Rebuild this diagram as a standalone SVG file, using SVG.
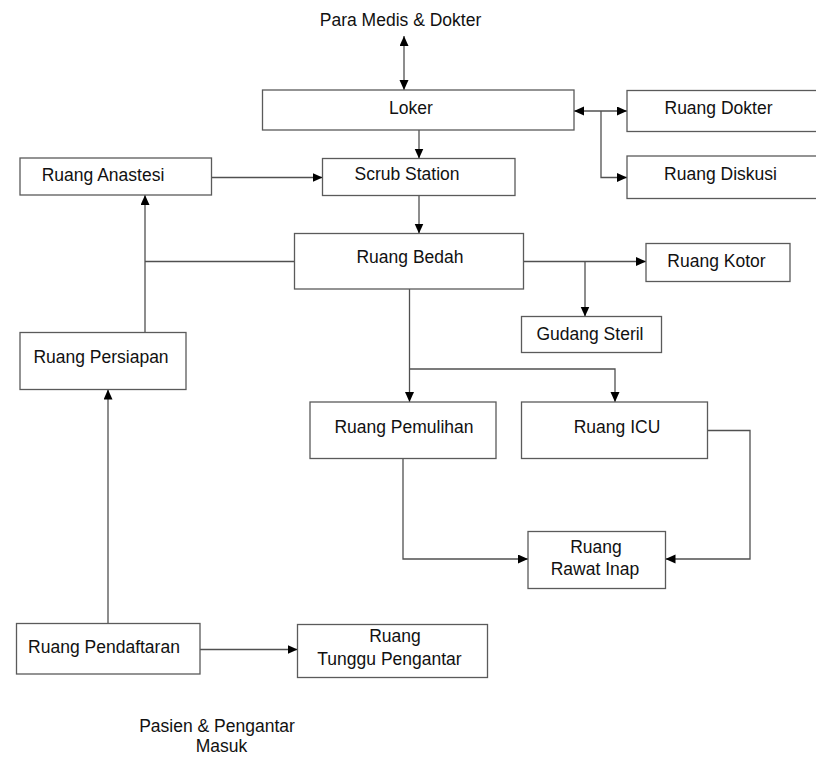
<svg xmlns="http://www.w3.org/2000/svg" width="816" height="758" viewBox="0 0 816 758">
  <style>
    .box { fill: #ffffff; stroke: #5a5a5a; stroke-width: 1.3; }
    .lbl { font-family: "Liberation Sans", Arial, sans-serif; font-size: 17.5px; fill: #111111; text-anchor: middle; }
    .wire { fill: none; stroke: #505050; stroke-width: 1.3; }
    .one { marker-end: url(#head); }
    .both { marker-start: url(#head); marker-end: url(#head); }
  </style>
  <defs>
    <marker id="head" markerUnits="userSpaceOnUse" markerWidth="11" markerHeight="10" refX="10" refY="4.5" orient="auto-start-reverse">
      <path d="M0,0 L10,4.5 L0,9 Z" fill="#000000"/>
    </marker>
  </defs>
  <rect width="816" height="758" fill="#ffffff"/>

  <!-- connectors -->
  <g id="connectors">
    <path class="wire both" d="M404,36 V90"/>
    <path class="wire both" d="M574,111 H627"/>
    <path class="wire one" d="M601,111 V177.5 H627"/>
    <path class="wire one" d="M419,130 V158.5"/>
    <path class="wire one" d="M211.5,177.5 H322.5"/>
    <path class="wire one" d="M419,195.5 V233.5"/>
    <path class="wire" d="M294.5,261.5 H145"/>
    <path class="wire one" d="M145,332.5 V195"/>
    <path class="wire one" d="M523.5,261.5 H646"/>
    <path class="wire one" d="M585,261.5 V316.5"/>
    <path class="wire one" d="M409.5,289 V402"/>
    <path class="wire one" d="M409.5,369 H615 V402"/>
    <path class="wire one" d="M707.5,430.5 H750 V559 H665.5"/>
    <path class="wire one" d="M403,458.5 V559 H528"/>
    <path class="wire one" d="M108,623.5 V389.5"/>
    <path class="wire one" d="M200,649.5 H297.5"/>
  </g>

  <!-- free labels -->
  <g id="staff-entry">
    <text class="lbl" x="400.5" y="26">Para Medis &amp; Dokter</text>
  </g>
  <g id="patient-entry">
    <text class="lbl" x="217" y="731.5">Pasien &amp; Pengantar</text>
    <text class="lbl" x="221.5" y="751.5">Masuk</text>
  </g>

  <!-- rooms -->
  <g id="loker">
    <rect class="box" x="262.5" y="90" width="311.5" height="40"/>
    <text class="lbl" x="411" y="113.5">Loker</text>
  </g>
  <g id="ruang-dokter">
    <rect class="box" x="627" y="90.5" width="195" height="41"/>
    <text class="lbl" x="718.5" y="114">Ruang Dokter</text>
  </g>
  <g id="ruang-diskusi">
    <rect class="box" x="627" y="156" width="195" height="42.5"/>
    <text class="lbl" x="720.5" y="180">Ruang Diskusi</text>
  </g>
  <g id="ruang-anastesi">
    <rect class="box" x="20" y="158" width="191.5" height="37"/>
    <text class="lbl" x="103" y="180.5">Ruang Anastesi</text>
  </g>
  <g id="scrub-station">
    <rect class="box" x="322.5" y="158.5" width="192.5" height="37"/>
    <text class="lbl" x="407" y="180">Scrub Station</text>
  </g>
  <g id="ruang-bedah">
    <rect class="box" x="294.5" y="233.5" width="229" height="55.5"/>
    <text class="lbl" x="410" y="263">Ruang Bedah</text>
  </g>
  <g id="ruang-kotor">
    <rect class="box" x="646" y="243.5" width="144" height="38"/>
    <text class="lbl" x="716.5" y="267">Ruang Kotor</text>
  </g>
  <g id="gudang-steril">
    <rect class="box" x="521.5" y="316.5" width="140" height="36"/>
    <text class="lbl" x="590" y="340">Gudang Steril</text>
  </g>
  <g id="ruang-persiapan">
    <rect class="box" x="20" y="332.5" width="166" height="57"/>
    <text class="lbl" x="101" y="363">Ruang Persiapan</text>
  </g>
  <g id="ruang-pemulihan">
    <rect class="box" x="310" y="402" width="186" height="56.5"/>
    <text class="lbl" x="404" y="432.5">Ruang Pemulihan</text>
  </g>
  <g id="ruang-icu">
    <rect class="box" x="521.5" y="402" width="186" height="56.5"/>
    <text class="lbl" x="617" y="432.5">Ruang ICU</text>
  </g>
  <g id="ruang-rawat-inap">
    <rect class="box" x="528" y="531.5" width="137.5" height="57"/>
    <text class="lbl" x="596" y="553">Ruang</text>
    <text class="lbl" x="595" y="574.5">Rawat Inap</text>
  </g>
  <g id="ruang-pendaftaran">
    <rect class="box" x="16.5" y="623.5" width="183.5" height="50.5"/>
    <text class="lbl" x="104" y="652.5">Ruang Pendaftaran</text>
  </g>
  <g id="ruang-tunggu">
    <rect class="box" x="297.5" y="624.5" width="190" height="53"/>
    <text class="lbl" x="395" y="641.5">Ruang</text>
    <text class="lbl" x="389.5" y="664.5">Tunggu Pengantar</text>
  </g>
</svg>
